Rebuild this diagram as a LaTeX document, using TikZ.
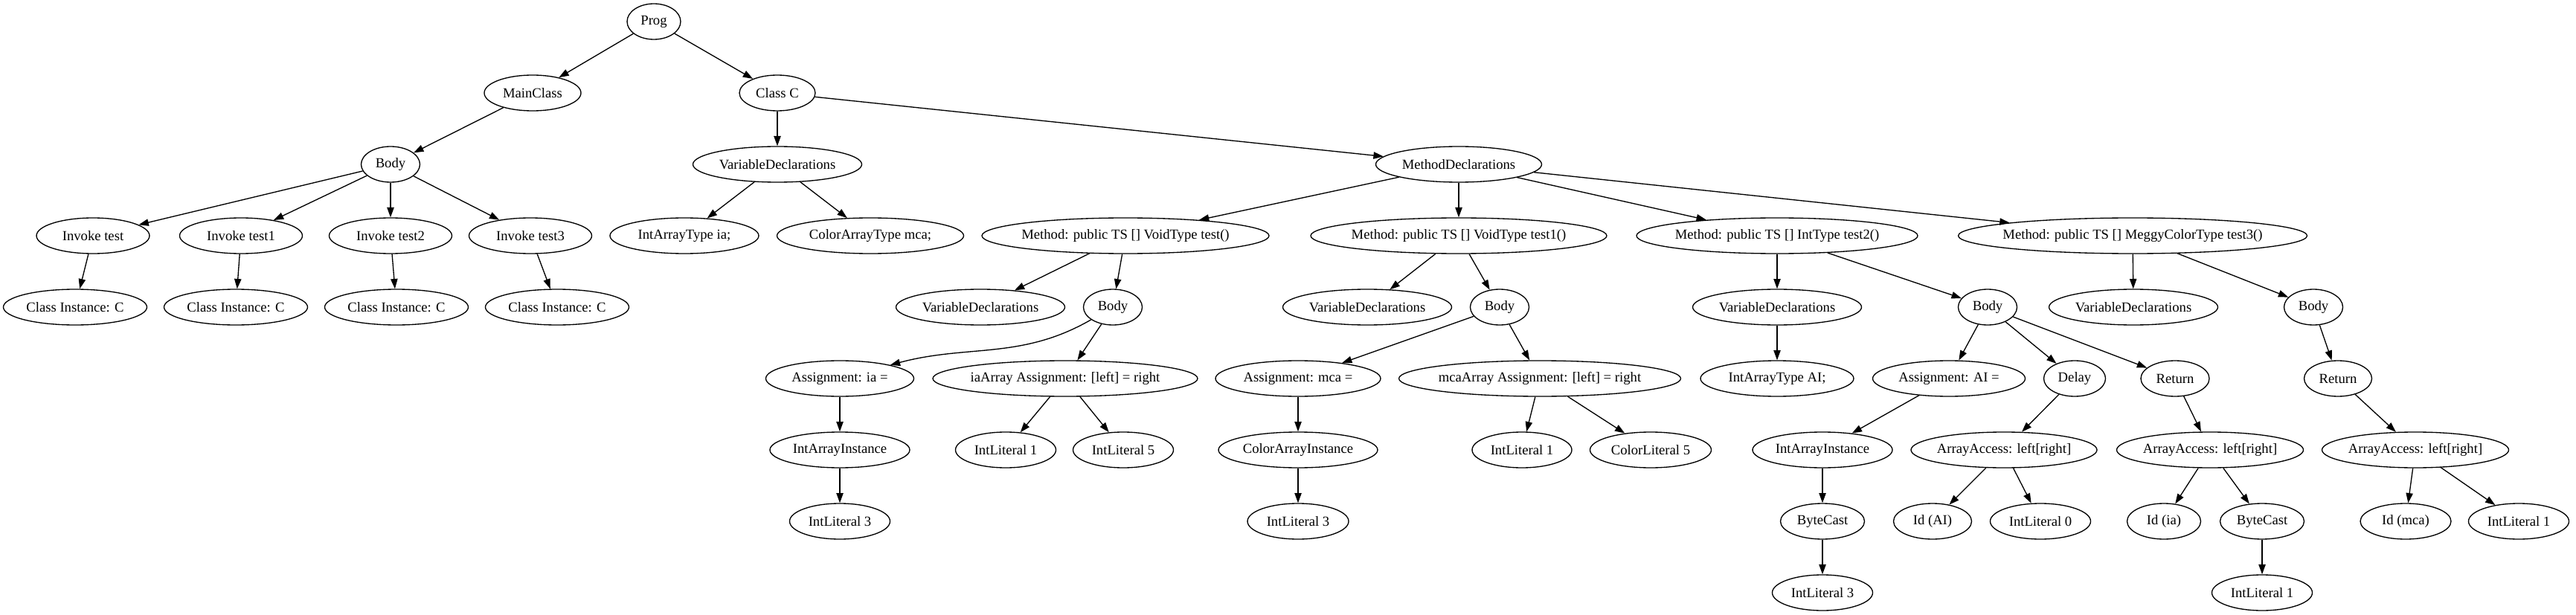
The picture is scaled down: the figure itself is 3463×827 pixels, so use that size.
\documentclass[tikz,border=0pt]{standalone}
\usepackage{fontspec}
\setmainfont{Liberation Serif}
\usetikzlibrary{shapes.geometric,arrows.meta}
\newcommand\nlab[1]{\makebox[0pt]{#1}}
\begin{document}
\begin{tikzpicture}[x=0.75pt,y=-0.75pt,
  nd/.style={draw, ellipse, line width=1pt, inner sep=0pt, minimum height=36pt, minimum width={#1*0.75pt}, font=\fontsize{14pt}{16pt}\selectfont},
  edge/.style={-{Triangle[length=10pt,width=7pt]}, line width=1pt}]
\useasboundingbox (0,0) rectangle (3463,827);
\fill[white] (0,0) rectangle (3463,827);
% row 0
\node[nd=72] (prog) at (879,29) {\nlab{Prog}};
% row 1
\node[nd=130] (mainclass) at (716,125) {\nlab{MainClass}};
\node[nd=102] (classc) at (1045,125) {\nlab{Class C}};
% row 2
\node[nd=79] (body0) at (525,221) {\nlab{Body}};
\node[nd=227] (vd0) at (1045,221) {\nlab{VariableDeclarations}};
\node[nd=223] (md) at (1961,221) {\nlab{MethodDeclarations}};
% row 3
\node[nd=152] (inv0) at (125,317) {\nlab{Invoke test}};
\node[nd=165] (inv1) at (324,317) {\nlab{Invoke test1}};
\node[nd=165] (inv2) at (525,317) {\nlab{Invoke test2}};
\node[nd=165] (inv3) at (713,317) {\nlab{Invoke test3}};
\node[nd=200] (iat) at (920,317) {\nlab{IntArrayType ia;}};
\node[nd=251] (cat) at (1170,317) {\nlab{ColorArrayType mca;}};
\node[nd=386] (m0) at (1513,317) {\nlab{Method: public TS [] VoidType test()}};
\node[nd=398] (m1) at (1961,317) {\nlab{Method: public TS [] VoidType test1()}};
\node[nd=378] (m2) at (2389,317) {\nlab{Method: public TS [] IntType test2()}};
\node[nd=469] (m3) at (2867,317) {\nlab{Method: public TS [] MeggyColorType test3()}};
% row 4
\node[nd=193] (ci0) at (101,413) {\nlab{Class Instance: C}};
\node[nd=193] (ci1) at (317,413) {\nlab{Class Instance: C}};
\node[nd=193] (ci2) at (533,413) {\nlab{Class Instance: C}};
\node[nd=193] (ci3) at (749,413) {\nlab{Class Instance: C}};
\node[nd=227] (vdm0) at (1318,413) {\nlab{VariableDeclarations}};
\node[nd=79] (b0) at (1496,413) {\nlab{Body}};
\node[nd=227] (vdm1) at (1838,413) {\nlab{VariableDeclarations}};
\node[nd=79] (b1) at (2016,413) {\nlab{Body}};
\node[nd=227] (vdm2) at (2389,413) {\nlab{VariableDeclarations}};
\node[nd=79] (b2) at (2672,413) {\nlab{Body}};
\node[nd=227] (vdm3) at (2868,413) {\nlab{VariableDeclarations}};
\node[nd=79] (b3) at (3110,413) {\nlab{Body}};
% row 5
\node[nd=199] (asia) at (1129,509) {\nlab{Assignment: ia =}};
\node[nd=356] (iaarr) at (1432,509) {\nlab{iaArray Assignment: [left] = right}};
\node[nd=222] (asmca) at (1745,509) {\nlab{Assignment: mca =}};
\node[nd=379] (mcaarr) at (2070,509) {\nlab{mcaArray Assignment: [left] = right}};
\node[nd=206] (iatai) at (2389,509) {\nlab{IntArrayType AI;}};
\node[nd=205] (asai) at (2620,509) {\nlab{Assignment: AI =}};
\node[nd=83] (delay) at (2789,509) {\nlab{Delay}};
\node[nd=92] (ret2) at (2924,509) {\nlab{Return}};
\node[nd=91] (ret3) at (3143,509) {\nlab{Return}};
% row 6
\node[nd=188] (iai0) at (1129,605) {\nlab{IntArrayInstance}};
\node[nd=135] (il1a) at (1352,605) {\nlab{IntLiteral 1}};
\node[nd=135] (il5) at (1510,605) {\nlab{IntLiteral 5}};
\node[nd=214] (cai) at (1745,605) {\nlab{ColorArrayInstance}};
\node[nd=134] (il1b) at (2046,605) {\nlab{IntLiteral 1}};
\node[nd=163] (cl5) at (2219,605) {\nlab{ColorLiteral 5}};
\node[nd=188] (iai1) at (2450,605) {\nlab{IntArrayInstance}};
\node[nd=250] (aa1) at (2694,605) {\nlab{ArrayAccess: left[right]}};
\node[nd=251] (aa2) at (2971,605) {\nlab{ArrayAccess: left[right]}};
\node[nd=251] (aa3) at (3247,605) {\nlab{ArrayAccess: left[right]}};
% row 7
\node[nd=135] (il3a) at (1129,701) {\nlab{IntLiteral 3}};
\node[nd=136] (il3b) at (1745,701) {\nlab{IntLiteral 3}};
\node[nd=113] (bc1) at (2450,701) {\nlab{ByteCast}};
\node[nd=105] (idai) at (2598,701) {\nlab{Id (AI)}};
\node[nd=135] (il0) at (2743,701) {\nlab{IntLiteral 0}};
\node[nd=99] (idia) at (2909,701) {\nlab{Id (ia)}};
\node[nd=113] (bc2) at (3041,701) {\nlab{ByteCast}};
\node[nd=122] (idmca) at (3234,701) {\nlab{Id (mca)}};
\node[nd=135] (il1c) at (3386,701) {\nlab{IntLiteral 1}};
% row 8
\node[nd=135] (il3c) at (2450,797) {\nlab{IntLiteral 3}};
\node[nd=135] (il1d) at (3041,797) {\nlab{IntLiteral 1}};
% edges
\draw[edge] (prog) -- (mainclass);
\draw[edge] (prog) -- (classc);
\draw[edge] (mainclass) -- (body0);
\draw[edge] (body0) -- (inv0);
\draw[edge] (body0) -- (inv1);
\draw[edge] (body0) -- (inv2);
\draw[edge] (body0) -- (inv3);
\draw[edge] (inv0) -- (ci0);
\draw[edge] (inv1) -- (ci1);
\draw[edge] (inv2) -- (ci2);
\draw[edge] (inv3) -- (ci3);
\draw[edge] (classc) -- (vd0);
\draw[edge] (classc) -- (md);
\draw[edge] (vd0) -- (iat);
\draw[edge] (vd0) -- (cat);
\draw[edge] (md) -- (m0);
\draw[edge] (md) -- (m1);
\draw[edge] (md) -- (m2);
\draw[edge] (md) -- (m3);
\draw[edge] (m0) -- (vdm0);
\draw[edge] (m0) -- (b0);
\draw[edge] (m1) -- (vdm1);
\draw[edge] (m1) -- (b1);
\draw[edge] (m2) -- (vdm2);
\draw[edge] (m2) -- (b2);
\draw[edge] (m3) -- (vdm3);
\draw[edge] (m3) -- (b3);
\draw[edge] (b0) to[out=210,in=15] (asia);
\draw[edge] (b0) -- (iaarr);
\draw[edge] (asia) -- (iai0);
\draw[edge] (iai0) -- (il3a);
\draw[edge] (iaarr) -- (il1a);
\draw[edge] (iaarr) -- (il5);
\draw[edge] (b1) -- (asmca);
\draw[edge] (b1) -- (mcaarr);
\draw[edge] (asmca) -- (cai);
\draw[edge] (cai) -- (il3b);
\draw[edge] (mcaarr) -- (il1b);
\draw[edge] (mcaarr) -- (cl5);
\draw[edge] (vdm2) -- (iatai);
\draw[edge] (b2) -- (asai);
\draw[edge] (b2) -- (delay);
\draw[edge] (b2) -- (ret2);
\draw[edge] (asai) -- (iai1);
\draw[edge] (iai1) -- (bc1);
\draw[edge] (bc1) -- (il3c);
\draw[edge] (delay) -- (aa1);
\draw[edge] (aa1) -- (idai);
\draw[edge] (aa1) -- (il0);
\draw[edge] (ret2) -- (aa2);
\draw[edge] (aa2) -- (idia);
\draw[edge] (aa2) -- (bc2);
\draw[edge] (bc2) -- (il1d);
\draw[edge] (b3) -- (ret3);
\draw[edge] (ret3) -- (aa3);
\draw[edge] (aa3) -- (idmca);
\draw[edge] (aa3) -- (il1c);
\end{tikzpicture}
\end{document}
